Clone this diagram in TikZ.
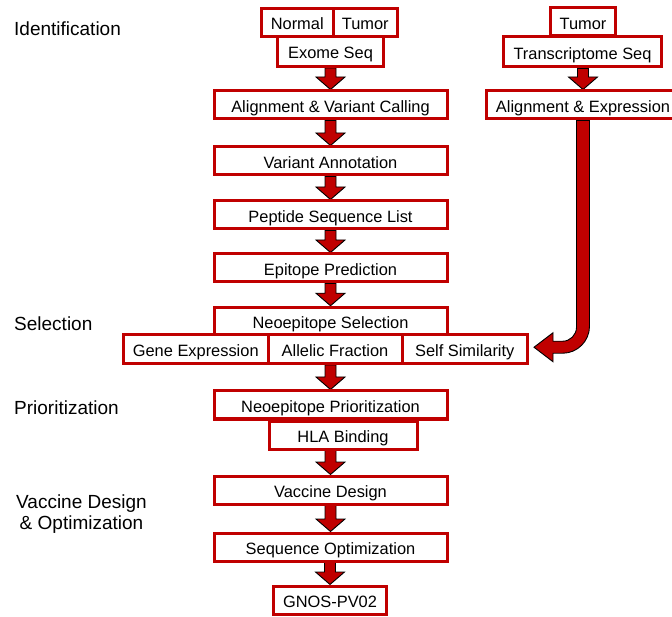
\documentclass[tikz,border=0pt]{standalone}
\usepackage{fontspec}
\setmainfont{Liberation Sans}
\usepackage{tikz}
\usetikzlibrary{calc,backgrounds}
\definecolor{stagered}{RGB}{192,0,0}
\definecolor{arrowred}{RGB}{192,0,0}

\newcommand{\flowarrow}[2]{%
\draw[arrowbody] ($(#2.north |- #1.south)+(-5.5,0)$) -- ($(#2.north)+(-5.5,-12.5)$) -- ++(-9,0) -- (#2.north) -- ++(14.5,-12.5) -- ++(-9,0) -- ($(#2.north |- #1.south)+(5.5,0)$) -- cycle;}

\begin{document}
\begin{tikzpicture}[x=1pt,y=-1pt,
  stage/.style={draw=stagered,line width=3pt,fill=white,inner sep=0pt,minimum height=28pt,
    text height=16pt,text depth=1pt,font=\fontsize{16.4}{19}\selectfont},
  phase/.style={font=\fontsize{19}{21}\selectfont,inner sep=0pt},
  arrowbody/.style={fill=arrowred,draw=black,line width=0.9pt,line join=miter}]
\useasboundingbox (0,0) rectangle (672,617);

\node [phase,anchor=base west] (identphase) at (14,36) {Identification};
\node [phase,anchor=base west] (selphase) at (14,331) {Selection};
\node [phase,anchor=base west] (priophase) at (14,414) {Prioritization};
\node [phase,anchor=base,align=center] (vacphase) at (81.5,529) {Vaccine Design\\ \& Optimization};

\node [stage,minimum width=71.5pt] (normal) at (297.25,22.5) {Normal};
\node [stage,minimum width=64.5pt] (tumordna) at (365.25,22.5) {Tumor};
\node [stage,minimum width=106pt,minimum height=30pt] (exome) at (330.5,51.5) {Exome Seq};
\node [stage,minimum width=233pt] (varcall) at (330.5,105) {Alignment \& Variant Calling};
\node [stage,minimum width=233pt] (annot) at (330.5,161) {Variant Annotation};
\node [stage,minimum width=233pt] (peptide) at (330.5,215) {Peptide Sequence List};
\node [stage,minimum width=233pt] (epitope) at (330.5,268) {Epitope Prediction};
\node [stage,minimum width=233pt,minimum height=27.5pt] (selection) at (330.5,321) {Neoepitope Selection};
\node [stage,minimum width=144.5pt,minimum height=28.5pt] (geneexpr) at (195.75,349.25) {Gene Expression};
\node [stage,minimum width=134pt,minimum height=28.5pt] (allelic) at (335,349.25) {Allelic Fraction};
\node [stage,minimum width=125.5pt,minimum height=28.5pt] (selfsim) at (464.75,349.25) {Self Similarity};
\node [stage,minimum width=233pt] (prior) at (330.5,405) {Neoepitope Prioritization};
\node [stage,minimum width=148pt] (hla) at (343,435) {HLA Binding};
\node [stage,minimum width=233pt] (vaccine) at (330.5,490) {Vaccine Design};
\node [stage,minimum width=233pt] (seqopt) at (330.5,547) {Sequence Optimization};
\node [stage,minimum width=113pt] (gnos) at (330,600) {GNOS-PV02};

\node [stage,minimum width=65pt] (tumorrna) at (583,22) {Tumor};
\node [stage,minimum width=158pt,minimum height=30pt] (transcr) at (582.5,52) {Transcriptome Seq};
\node [stage,minimum width=193pt] (alignexpr) at (583,105) {Alignment \& Expression};

\coordinate (arrtip) at ($(selfsim.east)+(5,-2)$);
\coordinate (arrbend) at (alignexpr.south |- arrtip);

\begin{scope}[on background layer]
\flowarrow{exome}{varcall}
\flowarrow{varcall}{annot}
\flowarrow{annot}{peptide}
\flowarrow{peptide}{epitope}
\flowarrow{epitope}{selection}
\flowarrow{allelic}{prior}
\flowarrow{hla}{vaccine}
\flowarrow{vaccine}{seqopt}
\flowarrow{seqopt}{gnos}
\flowarrow{transcr}{alignexpr}
\draw[arrowbody] ($(alignexpr.south)+(-6.5,0)$) -- ($(arrbend)+(-6.5,-20)$)
  .. controls +(0,7.7) and +(7.7,0) .. ($(arrbend)+(-20.5,-6)$)
  -- ($(arrtip)+(19,-6)$) -- ($(arrtip)+(19,-14.5)$) -- (arrtip)
  -- ($(arrtip)+(19,14.5)$) -- ($(arrtip)+(19,6)$) -- ($(arrbend)+(-20.5,6)$)
  .. controls +(14.9,0) and +(0,14.9) .. ($(arrbend)+(6.5,-21)$)
  -- ($(alignexpr.south)+(6.5,0)$) -- cycle;
\end{scope}
\end{tikzpicture}
\end{document}
